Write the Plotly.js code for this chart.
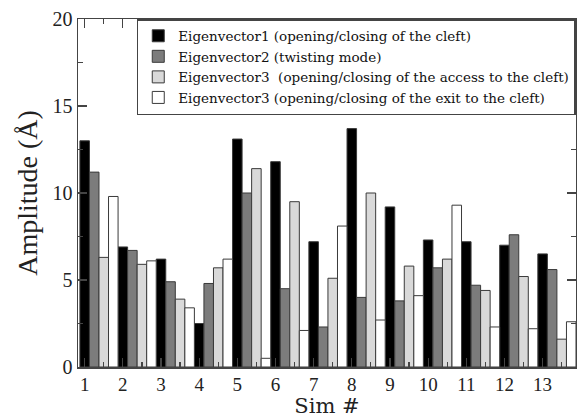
<!DOCTYPE html>
<html>
<head>
<meta charset="utf-8">
<script src="https://cdn.plot.ly/plotly-3.0.1.min.js"></script>
<style>html,body{margin:0;padding:0;background:#fff;}#chart{width:577px;height:418px;}</style>
</head>
<body>
<div id="chart"></div>
<script>
const sims = [1,2,3,4,5,6,7,8,9,10,11,12,13];
const tickLabels = ["1","2","3","4","5","6","7","8","9","10","11","12","13"];
const seriesNames = [
  "Eigenvector1 (opening/closing of the cleft)",
  "Eigenvector2 (twisting mode)",
  "Eigenvector3  (opening/closing of the access to the cleft)",
  "Eigenvector3 (opening/closing of the exit to the cleft)"
];
const eig1 = [13.0, 6.9, 6.2, 2.5, 13.1, 11.8, 7.2, 13.7, 9.2, 7.3, 7.2, 7.0, 6.5];
const eig2 = [11.2, 6.7, 4.9, 4.8, 10.0, 4.5, 2.3, 4.0, 3.8, 5.7, 4.7, 7.6, 5.6];
const eig3access = [6.3, 5.9, 3.9, 5.7, 11.4, 9.5, 5.1, 10.0, 5.8, 6.2, 4.4, 5.2, 1.6];
const eig3exit = [9.8, 6.1, 3.4, 6.2, 0.5, 2.1, 8.1, 2.7, 4.1, 9.3, 2.3, 2.2, 2.6];
const fills = ["#000000", "#7c7c7c", "#d9d9d9", "#ffffff"];
const allSeries = [eig1, eig2, eig3access, eig3exit];

const serif = "'Liberation Serif', 'Times New Roman', serif";
const wideSerif = "'DejaVu Serif', serif";
const traces = allSeries.map((vals, k) => ({
  type: "bar",
  x: sims,
  y: vals,
  name: seriesNames[k],
  marker: {color: fills[k], line: {color: "#3a3a3a", width: 1}}
}));

const layout = {
  width: 577, height: 418,
  margin: {l: 78, r: 1, t: 19, b: 51, autoexpand: false},
  paper_bgcolor: "#fff", plot_bgcolor: "#fff",
  barmode: "group", bargap: 0, bargroupgap: 0,
  showlegend: true,
  legend: {
    x: 0.118, xanchor: "left", y: 1.0, yanchor: "top",
    bgcolor: "#fff", bordercolor: "#444", borderwidth: 1.5,
    font: {family: wideSerif, size: 13.5, color: "#111"},
    tracegroupgap: 0
  },
  xaxis: {
    range: [0.45, 13.5],
    tickmode: "array",
    tickvals: sims.map(s => s - 0.375),
    ticktext: tickLabels,
    ticks: "inside", ticklen: 9, tickwidth: 1.2, tickcolor: "#444",
    minor: {tickmode: "array", tickvals: sims.map(s => s + 0.125), ticks: "inside", ticklen: 5, tickwidth: 1.2, tickcolor: "#444"},
    showline: true, linecolor: "#444", linewidth: 1.5, mirror: "ticks",
    showgrid: false, zeroline: false,
    tickfont: {family: serif, size: 19, color: "#222"},
    title: {text: "Sim #", font: {family: wideSerif, size: 21, color: "#222"}, standoff: 15}
  },
  yaxis: {
    range: [0, 20],
    tickmode: "linear", tick0: 0, dtick: 5,
    ticks: "inside", ticklen: 9, tickwidth: 1.2, tickcolor: "#444",
    minor: {dtick: 2.5, ticks: "inside", ticklen: 5, tickwidth: 1.2, tickcolor: "#444"},
    showline: true, linecolor: "#444", linewidth: 1.5, mirror: "ticks",
    showgrid: false, zeroline: false,
    tickfont: {family: serif, size: 20, color: "#222"},
    title: {text: "Amplitude (Å)", font: {family: serif, size: 28, color: "#222"}, standoff: 6}
  }
};

Plotly.newPlot("chart", traces, layout, {displayModeBar: false, staticPlot: true});
</script>
</body>
</html>
